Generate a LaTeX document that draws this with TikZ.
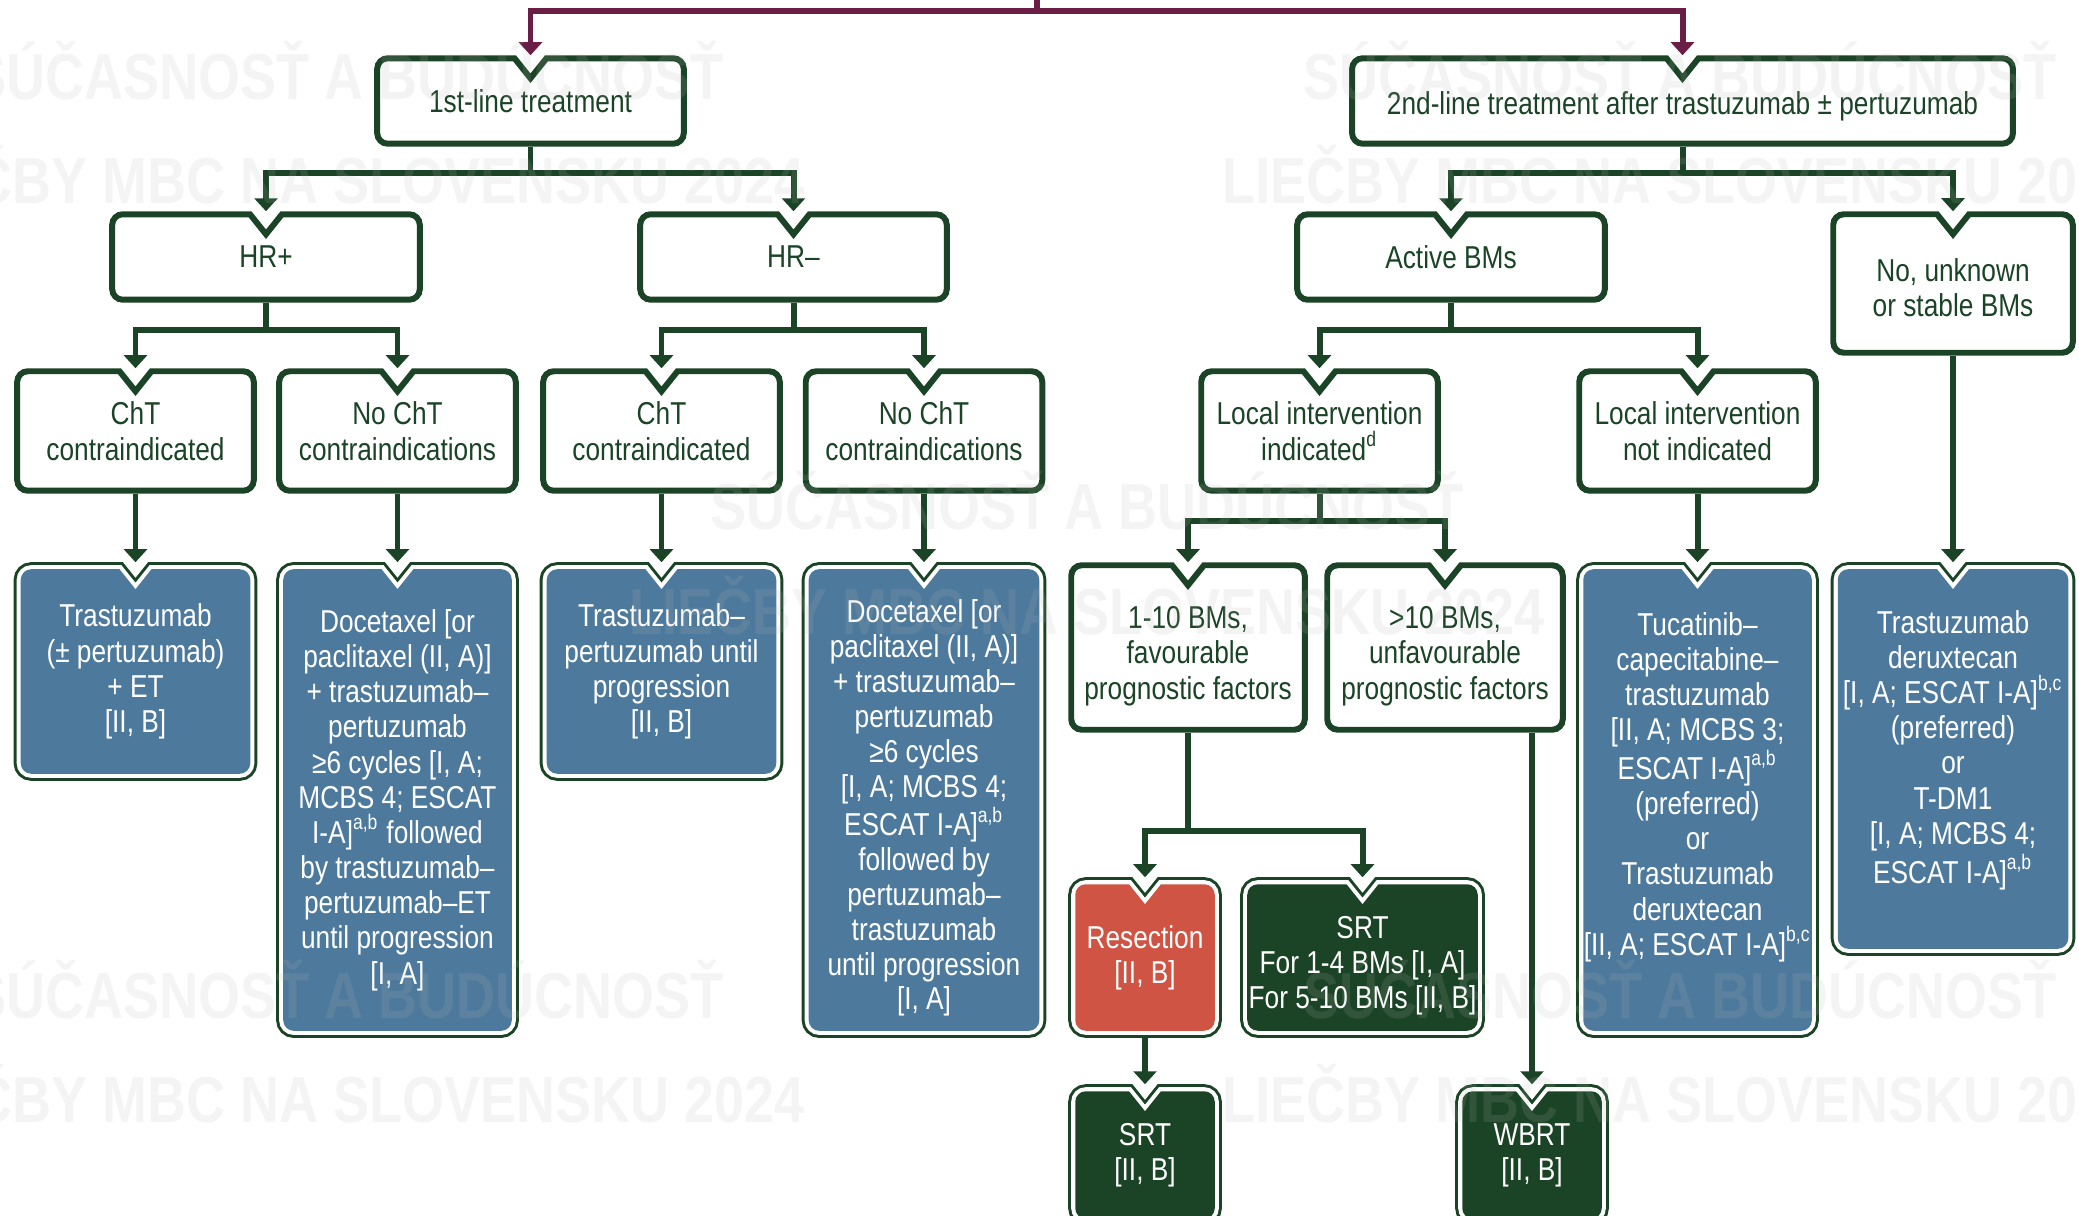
\documentclass[tikz,border=0pt]{standalone}
\usepackage{fontspec}
\setmainfont{Liberation Sans}[FakeStretch=0.83]
\usetikzlibrary{arrows.meta,calc,backgrounds}

\definecolor{esmogreen}{RGB}{27,68,38}
\definecolor{esmoblue}{RGB}{77,122,156}
\definecolor{esmored}{RGB}{208,84,67}
\definecolor{esmoplum}{RGB}{107,30,69}

% outline of a box with the notch on top, #2 = inset from the node border
\newcommand\notched[2]{($(#1.north)+(16,#2)$)
  -- ($(#1.north east)+(-#2,#2)+(-3pt,0pt)$) arc[start angle=90, end angle=0, radius=3pt]
  -- ($(#1.south east)+(-#2,-#2)+(0pt,3pt)$) arc[start angle=0, end angle=-90, radius=3pt]
  -- ($(#1.south west)+(#2,-#2)+(3pt,0pt)$) arc[start angle=-90, end angle=-180, radius=3pt]
  -- ($(#1.north west)+(#2,#2)+(0pt,-3pt)$) arc[start angle=180, end angle=90, radius=3pt]
  -- ($(#1.north)+(-16,#2)$) -- ($(#1.north)+(0,#2+20)$) -- cycle}
% struts to nudge a text down (taller first line) or up (deeper last line)
\newcommand\drop[1]{\rule{0pt}{#1}}
\newcommand\lift[1]{\rule[-#1]{0pt}{#1}}

\begin{document}
\begin{tikzpicture}[x=0.01cm, y=-0.01cm,
    every node/.style={inner sep=0pt, align=center, font=\fontsize{9}{10}\selectfont},
    plainbox/.style={text=esmogreen, font=\fontsize{9}{10.2}\selectfont},
    fillbox/.style={text=white},
    toprow/.style={plainbox, minimum height=0.9cm},
    case/.style={plainbox, minimum width=2.41cm, minimum height=1.24cm},
    stem/.style={draw=esmogreen, line width=1.7pt},
    link/.style={stem, -{Triangle[width=6.5pt, length=3.7pt]}},
    plumlink/.style={draw=esmoplum, line width=1.7pt, -{Triangle[width=6.5pt, length=3.7pt]}},
    wmark/.style={anchor=base, text=black!30, text opacity=0.15,
      font=\fontsize{18.5}{20}\selectfont\bfseries}]
  \useasboundingbox (0,0) rectangle (2079,1216);

  % treatment lines
  \node[toprow, minimum width=3.11cm] (first) at (530.5,101) {1st-line treatment};
  \node[toprow, minimum width=6.65cm] (second) at (1682.5,101) {\drop{9.5pt}2nd-line treatment after trastuzumab ± pertuzumab};

  \node[toprow, minimum width=3.12cm] (hrp) at (266,257) {HR+};
  \node[toprow, minimum width=3.11cm] (hrm) at (793.5,257) {HR–};
  \node[toprow, minimum width=3.12cm] (active) at (1451,257) {Active BMs};
  \node[plainbox, minimum width=2.44cm, minimum height=1.43cm] (nounk) at (1953,283.5) {\drop{8.9pt}No, unknown\\or stable BMs};

  \node[case] (cht1) at (135.5,431) {ChT\\contraindicated};
  \node[case] (nocht1) at (397.5,431) {No ChT\\contraindications};
  \node[case] (cht2) at (661.5,431) {ChT\\contraindicated};
  \node[case] (nocht2) at (924,431) {No ChT\\contraindications};
  \node[case] (locyes) at (1319.5,431) {Local intervention\\indicated\textsuperscript{d}};
  \node[case] (locno) at (1697.5,431) {Local intervention\\not indicated};

  % regimens
  \node[fillbox, minimum width=2.42cm, minimum height=2.17cm] (bl1) at (135.5,671.5)
    {Trastuzumab\\(± pertuzumab)\\+ ET\\{[II, B]}};
  \node[fillbox, minimum width=2.41cm, minimum height=4.74cm] (bl2) at (397.5,800)
    {Docetaxel [or\\paclitaxel (II, A)]\\+ trastuzumab–\\pertuzumab\\≥6 cycles [I, A;\\MCBS 4; ESCAT\\I-A]\textsuperscript{a,b} followed\\by trastuzumab–\\pertuzumab–ET\\until progression\\{[I, A]}};
  \node[fillbox, minimum width=2.42cm, minimum height=2.17cm] (bl3) at (661.5,671.5)
    {Trastuzumab–\\pertuzumab until\\progression\\{[II, B]}};
  \node[fillbox, minimum width=2.43cm, minimum height=4.74cm, font=\fontsize{9}{9.9}\selectfont] (bl4) at (924,800)
    {\drop{11.2pt}Docetaxel [or\\paclitaxel (II, A)]\\+ trastuzumab–\\pertuzumab\\≥6 cycles\\{[I, A; MCBS 4;}\\ESCAT I-A]\textsuperscript{a,b}\\followed by\\pertuzumab–\\trastuzumab\\until progression\\{[I, A]}};
  \node[plainbox, minimum width=2.38cm, minimum height=1.69cm] (few) at (1188,647.5)
    {\drop{11.2pt}1-10 BMs,\\favourable\\prognostic factors};
  \node[plainbox, minimum width=2.40cm, minimum height=1.69cm] (many) at (1445,647.5)
    {\drop{11.2pt}>10 BMs,\\unfavourable\\prognostic factors};
  \node[fillbox, minimum width=2.41cm, minimum height=4.74cm] (tuca) at (1697.5,800)
    {Tucatinib–\\capecitabine–\\trastuzumab\\{[II, A; MCBS 3;}\\ESCAT I-A]\textsuperscript{a,b}\\(preferred)\\or\\Trastuzumab\\deruxtecan\\{[II, A; ESCAT I-A]}\textsuperscript{b,c}\lift{9.3pt}};
  \node[fillbox, minimum width=2.43cm, minimum height=3.92cm] (tdxd) at (1953,759)
    {Trastuzumab\\deruxtecan\\{[I, A; ESCAT I-A]}\textsuperscript{b,c}\\(preferred)\\or\\T-DM1\\{[I, A; MCBS 4;}\\ESCAT I-A]\textsuperscript{a,b}\lift{7pt}};

  \node[fillbox, minimum width=1.52cm, minimum height=1.59cm] (resec) at (1145,957.5) {Resection\\{[II, B]}};
  \node[fillbox, minimum width=2.43cm, minimum height=1.59cm] (srt1) at (1362.5,957.5)
    {\drop{11pt}SRT\\For 1-4 BMs [I, A]\\For 5-10 BMs [II, B]};
  \node[fillbox, minimum width=1.52cm, minimum height=1.40cm] (srt2) at (1145,1155) {SRT\\{[II, B]}};
  \node[fillbox, minimum width=1.52cm, minimum height=1.40cm] (wbrt) at (1532,1155) {WBRT\\{[II, B]}};

  % box outlines behind the text
  \begin{pgfonlayer}{background}
    \clip (0,0) rectangle (2079,1216);
    \foreach \n in {first,second,hrp,hrm,active,nounk,cht1,nocht1,cht2,nocht2,locyes,locno,few,many}
      \draw[fill=white, draw=esmogreen, line width=1.7pt] \notched{\n}{3};
    \foreach \n/\c in {bl1/esmoblue,bl2/esmoblue,bl3/esmoblue,bl4/esmoblue,tuca/esmoblue,tdxd/esmoblue,
        resec/esmored,srt1/esmogreen,srt2/esmogreen,wbrt/esmogreen} {
      \draw[esmogreen, line width=4pt] \notched{\n}{7};
      \draw[white, line width=2.3pt] \notched{\n}{7};
      \fill[\c] \notched{\n}{7};
    }
  \end{pgfonlayer}

  % connectors
  \coordinate (root) at (1037,0);
  \coordinate (rootj) at (1037,11);
  \draw[draw=esmoplum, line width=1.7pt] (root) -- (rootj);
  \draw[plumlink] (rootj) -| (first.north);
  \draw[plumlink] (rootj) -| (second.north);

  \foreach \p/\a/\b/\d in {first/hrp/hrm/26, second/active/nounk/26, hrp/cht1/nocht1/27,
      hrm/cht2/nocht2/27, active/locyes/locno/27, locyes/few/many/27, few/resec/srt1/98} {
    \draw[stem] (\p.south) -- ++(0,\d) coordinate (j);
    \draw[link] (j) -| (\a.north);
    \draw[link] (j) -| (\b.north);
  }
  \foreach \a/\b in {cht1/bl1,nocht1/bl2,cht2/bl3,nocht2/bl4,locno/tuca,nounk/tdxd,resec/srt2}
    \draw[link] (\a.south) -- (\b.north);
  \draw[link] (wbrt.north |- many.south) -- (wbrt.north);

  % watermark
  \foreach \x/\y [count=\i] in {347/100,1680/100,1087/530,347/1018,1680/1018} {
    \node[wmark] (wmt\i) at (\x,\y) {SÚČASNOSŤ A BUDÚCNOSŤ};
    \node[wmark] (wmb\i) at (\x,\y+104) {LIEČBY MBC NA SLOVENSKU 2024};
  }
\end{tikzpicture}
\end{document}
